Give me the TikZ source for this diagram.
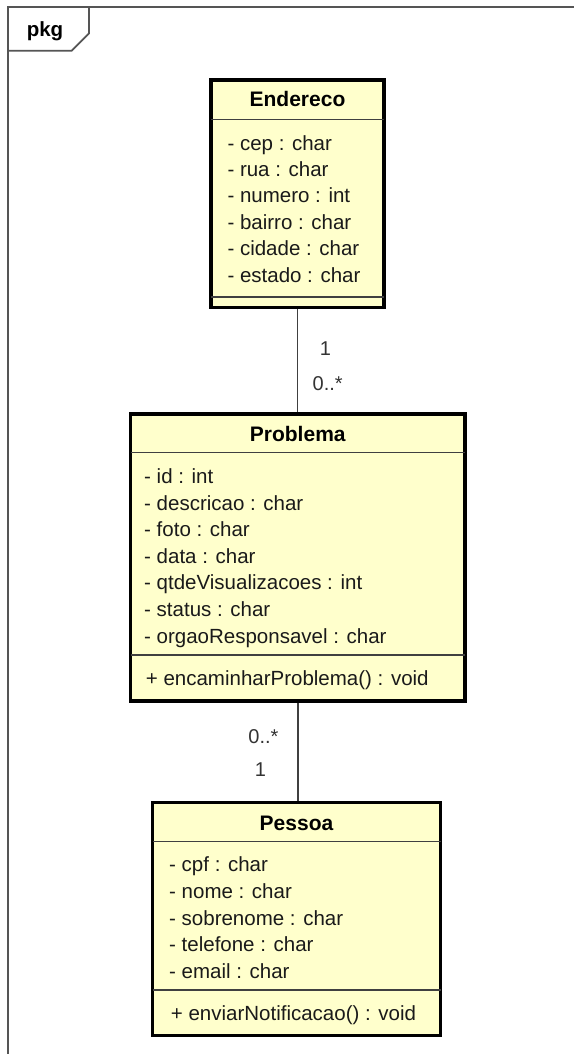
\documentclass[tikz,border=0pt]{standalone}
\usepackage{fontspec}
\setmainfont{Liberation Sans}
\definecolor{umlfill}{HTML}{FFFFCC}
\definecolor{framegray}{HTML}{555555}
\definecolor{linegray}{HTML}{404040}
\definecolor{textdark}{HTML}{1A1A1A}
\definecolor{multgray}{HTML}{333333}
\begin{document}
\begin{tikzpicture}[x=1pt,y=-1pt,
  classbox/.style={draw=black, line width=3.5pt, fill=umlfill, rectangle, inner sep=0pt, outer sep=0pt},
  sepline/.style={draw=linegray, line width=1.5pt},
  assoc/.style={draw=linegray, line width=1.5pt, shorten <=1.75pt, shorten >=1.75pt},
  framestyle/.style={draw=framegray, line width=1.8pt},
  attr/.style={anchor=base west, inner sep=0pt, text=textdark, font=\fontsize{20.5}{24}\selectfont},
  ctitle/.style={anchor=base, inner sep=0pt, text=black, font=\bfseries\fontsize{21}{24}\selectfont},
  mult/.style={anchor=base west, inner sep=0pt, text=multgray, font=\fontsize{20}{24}\selectfont}]
\useasboundingbox (0,0) rectangle (573,1054);
\fill[white] (0,0) rectangle (573,1054);

% package frame
\draw[framestyle] (8,1060) -- (8,7) -- (580,7);
\draw[framestyle] (89,7) -- (89,33.3) -- (71.7,50.7) -- (8,50.7);
\node[anchor=base, inner sep=0pt, font=\bfseries\fontsize{20.5}{24}\selectfont] (pkg) at (45,36.7) {pkg};

% class boxes
\node[classbox, minimum width=173pt, minimum height=227.5pt] (endereco) at (297.5,193.75) {};
\node[classbox, minimum width=334.5pt, minimum height=287pt] (problema) at (297.75,557.5) {};
\node[classbox, minimum width=288pt, minimum height=233pt] (pessoa) at (296.5,919) {};

% separators
\draw[sepline] ([yshift=-39.3pt]endereco.north west) -- ([yshift=-39.3pt]endereco.north east);
\draw[sepline] ([yshift=-217pt]endereco.north west) -- ([yshift=-217pt]endereco.north east);
\draw[sepline] ([yshift=-38.7pt]problema.north west) -- ([yshift=-38.7pt]problema.north east);
\draw[sepline] ([yshift=-241pt]problema.north west) -- ([yshift=-241pt]problema.north east);
\draw[sepline] ([yshift=-39.2pt]pessoa.north west) -- ([yshift=-39.2pt]pessoa.north east);
\draw[sepline] ([yshift=-187.5pt]pessoa.north west) -- ([yshift=-187.5pt]pessoa.north east);

% Endereco
\node[ctitle] (endereco-t) at (297.5,106.7) {Endereco};
\foreach \t [count=\i] in {- cep : char, - rua : char, - numero : int, - bairro : char, - cidade : char, - estado : char}
  \node[attr] (endereco-a\i) at (227.3,{150+26.4*(\i-1)}) {\t};

% Problema
\node[ctitle] (problema-t) at (297.75,441.7) {Problema};
\foreach \t [count=\i] in {- id : int, - descricao : char, - foto : char, - data : char, - qtdeVisualizacoes : int, - status : char, - orgaoResponsavel : char}
  \node[attr] (problema-a\i) at (144,{483.5+26.6*(\i-1)}) {\t};
\node[attr] (problema-m1) at (145.7,685) {+ encaminharProblema() : void};

% Pessoa
\node[ctitle] (pessoa-t) at (296.5,830) {Pessoa};
\foreach \t [count=\i] in {- cpf : char, - nome : char, - sobrenome : char, - telefone : char, - email : char}
  \node[attr] (pessoa-a\i) at (169,{871.7+26.65*(\i-1)}) {\t};
\node[attr] (pessoa-m1) at (170.7,1020) {+ enviarNotificacao() : void};

% associations
\draw[assoc] (endereco.south) -- (endereco.south |- problema.north);
\draw[assoc] (problema.south) -- (problema.south |- pessoa.north);

% multiplicities
\node[mult] (m-end) at (319.6,355) {1};
\node[mult] (m-prob1) at (312.5,390) {0..*};
\node[mult] (m-prob2) at (248.2,743.3) {0..*};
\node[mult] (m-pes) at (254.6,776.7) {1};
\end{tikzpicture}
\end{document}
